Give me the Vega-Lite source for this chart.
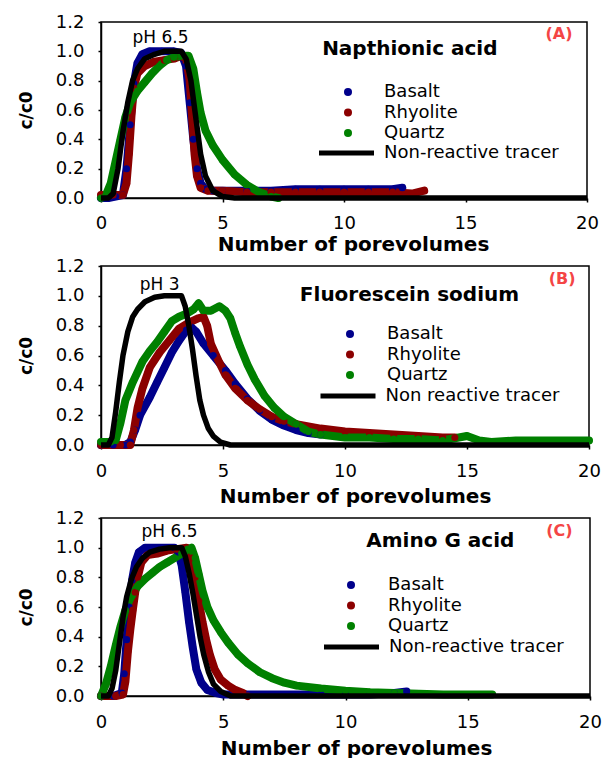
{
  "$schema": "https://vega.github.io/schema/vega-lite/v6.json",
  "padding": {"left": 16, "top": 12, "right": 5, "bottom": 0},
  "spacing": 1,
  "background": "white",
  "datasets": {
    "A": [
      {"series":"Basalt","x":0,"y":0},{"series":"Basalt","x":0.3,"y":0},{"series":"Basalt","x":0.6,"y":0.01},{"series":"Basalt","x":0.9,"y":0.02},{"series":"Basalt","x":1.05,"y":0.2},{"series":"Basalt","x":1.2,"y":0.5},{"series":"Basalt","x":1.35,"y":0.78},{"series":"Basalt","x":1.5,"y":0.92},{"series":"Basalt","x":1.7,"y":0.98},{"series":"Basalt","x":2.0,"y":1.0},{"series":"Basalt","x":2.5,"y":1.0},{"series":"Basalt","x":3.0,"y":1.0},{"series":"Basalt","x":3.3,"y":0.99},{"series":"Basalt","x":3.5,"y":0.9},{"series":"Basalt","x":3.65,"y":0.65},{"series":"Basalt","x":3.8,"y":0.4},{"series":"Basalt","x":3.95,"y":0.2},{"series":"Basalt","x":4.1,"y":0.1},{"series":"Basalt","x":4.3,"y":0.06},{"series":"Basalt","x":4.6,"y":0.05},{"series":"Basalt","x":5,"y":0.05},{"series":"Basalt","x":6,"y":0.05},{"series":"Basalt","x":7,"y":0.05},{"series":"Basalt","x":8,"y":0.06},{"series":"Basalt","x":9,"y":0.06},{"series":"Basalt","x":10,"y":0.06},{"series":"Basalt","x":11,"y":0.06},{"series":"Basalt","x":12,"y":0.06},{"series":"Basalt","x":12.4,"y":0.07},
      {"series":"Rhyolite","x":0,"y":0.02},{"series":"Rhyolite","x":0.5,"y":0.02},{"series":"Rhyolite","x":0.9,"y":0.02},{"series":"Rhyolite","x":1.05,"y":0.1},{"series":"Rhyolite","x":1.15,"y":0.3},{"series":"Rhyolite","x":1.25,"y":0.55},{"series":"Rhyolite","x":1.35,"y":0.75},{"series":"Rhyolite","x":1.5,"y":0.85},{"series":"Rhyolite","x":1.8,"y":0.9},{"series":"Rhyolite","x":2.2,"y":0.93},{"series":"Rhyolite","x":2.6,"y":0.94},{"series":"Rhyolite","x":3.0,"y":0.95},{"series":"Rhyolite","x":3.3,"y":0.97},{"series":"Rhyolite","x":3.5,"y":0.95},{"series":"Rhyolite","x":3.65,"y":0.8},{"series":"Rhyolite","x":3.75,"y":0.55},{"series":"Rhyolite","x":3.85,"y":0.3},{"series":"Rhyolite","x":3.95,"y":0.15},{"series":"Rhyolite","x":4.1,"y":0.07},{"series":"Rhyolite","x":4.4,"y":0.05},{"series":"Rhyolite","x":5,"y":0.05},{"series":"Rhyolite","x":6,"y":0.04},{"series":"Rhyolite","x":7,"y":0.04},{"series":"Rhyolite","x":8,"y":0.04},{"series":"Rhyolite","x":9,"y":0.04},{"series":"Rhyolite","x":10,"y":0.04},{"series":"Rhyolite","x":11,"y":0.04},{"series":"Rhyolite","x":12,"y":0.04},{"series":"Rhyolite","x":12.8,"y":0.03},{"series":"Rhyolite","x":13.3,"y":0.05},
      {"series":"Quartz","x":0,"y":0},{"series":"Quartz","x":0.2,"y":0.02},{"series":"Quartz","x":0.4,"y":0.1},{"series":"Quartz","x":0.6,"y":0.25},{"series":"Quartz","x":0.8,"y":0.4},{"series":"Quartz","x":1.0,"y":0.55},{"series":"Quartz","x":1.2,"y":0.65},{"series":"Quartz","x":1.5,"y":0.73},{"series":"Quartz","x":1.8,"y":0.79},{"series":"Quartz","x":2.1,"y":0.85},{"series":"Quartz","x":2.4,"y":0.9},{"series":"Quartz","x":2.7,"y":0.94},{"series":"Quartz","x":3.0,"y":0.96},{"series":"Quartz","x":3.3,"y":0.97},{"series":"Quartz","x":3.6,"y":0.97},{"series":"Quartz","x":3.8,"y":0.88},{"series":"Quartz","x":3.95,"y":0.72},{"series":"Quartz","x":4.1,"y":0.58},{"series":"Quartz","x":4.3,"y":0.46},{"series":"Quartz","x":4.6,"y":0.36},{"series":"Quartz","x":5.0,"y":0.26},{"series":"Quartz","x":5.5,"y":0.16},{"series":"Quartz","x":6.0,"y":0.09},{"series":"Quartz","x":6.5,"y":0.04},{"series":"Quartz","x":7.0,"y":0.01},{"series":"Quartz","x":7.3,"y":0.0},
      {"series":"Non-reactive tracer","x":0,"y":0},{"series":"Non-reactive tracer","x":0.3,"y":0},{"series":"Non-reactive tracer","x":0.5,"y":0.03},{"series":"Non-reactive tracer","x":0.7,"y":0.2},{"series":"Non-reactive tracer","x":0.9,"y":0.45},{"series":"Non-reactive tracer","x":1.1,"y":0.65},{"series":"Non-reactive tracer","x":1.3,"y":0.8},{"series":"Non-reactive tracer","x":1.5,"y":0.88},{"series":"Non-reactive tracer","x":1.8,"y":0.95},{"series":"Non-reactive tracer","x":2.2,"y":0.98},{"series":"Non-reactive tracer","x":2.6,"y":1.0},{"series":"Non-reactive tracer","x":3.3,"y":1.0},{"series":"Non-reactive tracer","x":3.5,"y":0.95},{"series":"Non-reactive tracer","x":3.7,"y":0.8},{"series":"Non-reactive tracer","x":3.9,"y":0.55},{"series":"Non-reactive tracer","x":4.1,"y":0.3},{"series":"Non-reactive tracer","x":4.3,"y":0.15},{"series":"Non-reactive tracer","x":4.6,"y":0.05},{"series":"Non-reactive tracer","x":5.0,"y":0.01},{"series":"Non-reactive tracer","x":5.5,"y":0},{"series":"Non-reactive tracer","x":20,"y":0}
    ],
    "B": [
      {"series":"Basalt","x":0,"y":0},{"series":"Basalt","x":0.5,"y":0},{"series":"Basalt","x":1.0,"y":0},{"series":"Basalt","x":1.2,"y":0.02},{"series":"Basalt","x":1.4,"y":0.1},{"series":"Basalt","x":1.6,"y":0.2},{"series":"Basalt","x":2.0,"y":0.32},{"series":"Basalt","x":2.3,"y":0.42},{"series":"Basalt","x":2.6,"y":0.52},{"series":"Basalt","x":2.9,"y":0.62},{"series":"Basalt","x":3.2,"y":0.7},{"series":"Basalt","x":3.5,"y":0.77},{"series":"Basalt","x":3.7,"y":0.79},{"series":"Basalt","x":3.9,"y":0.76},{"series":"Basalt","x":4.2,"y":0.68},{"series":"Basalt","x":4.6,"y":0.6},{"series":"Basalt","x":5.1,"y":0.5},{"series":"Basalt","x":5.5,"y":0.41},{"series":"Basalt","x":6.0,"y":0.31},{"series":"Basalt","x":6.5,"y":0.23},{"series":"Basalt","x":7.0,"y":0.17},{"series":"Basalt","x":7.5,"y":0.13},{"series":"Basalt","x":8.0,"y":0.1},{"series":"Basalt","x":8.5,"y":0.08},{"series":"Basalt","x":9.0,"y":0.07},
      {"series":"Rhyolite","x":0,"y":0},{"series":"Rhyolite","x":0.8,"y":0},{"series":"Rhyolite","x":1.2,"y":0},{"series":"Rhyolite","x":1.35,"y":0.1},{"series":"Rhyolite","x":1.5,"y":0.25},{"series":"Rhyolite","x":1.7,"y":0.38},{"series":"Rhyolite","x":2.0,"y":0.52},{"series":"Rhyolite","x":2.4,"y":0.62},{"series":"Rhyolite","x":2.8,"y":0.7},{"series":"Rhyolite","x":3.2,"y":0.78},{"series":"Rhyolite","x":3.6,"y":0.82},{"series":"Rhyolite","x":4.0,"y":0.85},{"series":"Rhyolite","x":4.2,"y":0.86},{"series":"Rhyolite","x":4.35,"y":0.8},{"series":"Rhyolite","x":4.5,"y":0.68},{"series":"Rhyolite","x":4.8,"y":0.57},{"series":"Rhyolite","x":5.1,"y":0.47},{"series":"Rhyolite","x":5.5,"y":0.38},{"series":"Rhyolite","x":6.0,"y":0.3},{"series":"Rhyolite","x":6.5,"y":0.24},{"series":"Rhyolite","x":7.0,"y":0.19},{"series":"Rhyolite","x":7.5,"y":0.16},{"series":"Rhyolite","x":8.0,"y":0.14},{"series":"Rhyolite","x":9.0,"y":0.11},{"series":"Rhyolite","x":10,"y":0.09},{"series":"Rhyolite","x":11,"y":0.08},{"series":"Rhyolite","x":12,"y":0.07},{"series":"Rhyolite","x":13,"y":0.06},{"series":"Rhyolite","x":14,"y":0.05},{"series":"Rhyolite","x":14.5,"y":0.05},
      {"series":"Quartz","x":0,"y":0.02},{"series":"Quartz","x":0.4,"y":0.02},{"series":"Quartz","x":0.6,"y":0.03},{"series":"Quartz","x":0.8,"y":0.15},{"series":"Quartz","x":1.0,"y":0.3},{"series":"Quartz","x":1.3,"y":0.42},{"series":"Quartz","x":1.7,"y":0.56},{"series":"Quartz","x":2.0,"y":0.63},{"series":"Quartz","x":2.3,"y":0.69},{"series":"Quartz","x":2.6,"y":0.76},{"series":"Quartz","x":2.9,"y":0.83},{"series":"Quartz","x":3.2,"y":0.86},{"series":"Quartz","x":3.5,"y":0.88},{"series":"Quartz","x":3.8,"y":0.91},{"series":"Quartz","x":4.0,"y":0.95},{"series":"Quartz","x":4.2,"y":0.9},{"series":"Quartz","x":4.5,"y":0.9},{"series":"Quartz","x":4.85,"y":0.93},{"series":"Quartz","x":5.1,"y":0.9},{"series":"Quartz","x":5.3,"y":0.85},{"series":"Quartz","x":5.5,"y":0.75},{"series":"Quartz","x":5.7,"y":0.66},{"series":"Quartz","x":6.0,"y":0.54},{"series":"Quartz","x":6.3,"y":0.44},{"series":"Quartz","x":6.7,"y":0.33},{"series":"Quartz","x":7.1,"y":0.25},{"series":"Quartz","x":7.5,"y":0.19},{"series":"Quartz","x":8.0,"y":0.14},{"series":"Quartz","x":8.5,"y":0.09},{"series":"Quartz","x":9,"y":0.07},{"series":"Quartz","x":10,"y":0.05},{"series":"Quartz","x":11,"y":0.05},{"series":"Quartz","x":12,"y":0.04},{"series":"Quartz","x":13,"y":0.04},{"series":"Quartz","x":14,"y":0.03},{"series":"Quartz","x":15,"y":0.06},{"series":"Quartz","x":15.5,"y":0.03},{"series":"Quartz","x":16,"y":0.02},{"series":"Quartz","x":17,"y":0.03},{"series":"Quartz","x":18,"y":0.03},{"series":"Quartz","x":19,"y":0.03},{"series":"Quartz","x":20,"y":0.03},
      {"series":"Non reactive tracer","x":0,"y":0},{"series":"Non reactive tracer","x":0.3,"y":0},{"series":"Non reactive tracer","x":0.45,"y":0.05},{"series":"Non reactive tracer","x":0.6,"y":0.22},{"series":"Non reactive tracer","x":0.75,"y":0.42},{"series":"Non reactive tracer","x":0.9,"y":0.6},{"series":"Non reactive tracer","x":1.1,"y":0.76},{"series":"Non reactive tracer","x":1.3,"y":0.86},{"series":"Non reactive tracer","x":1.5,"y":0.91},{"series":"Non reactive tracer","x":1.8,"y":0.96},{"series":"Non reactive tracer","x":2.2,"y":0.99},{"series":"Non reactive tracer","x":2.6,"y":1.0},{"series":"Non reactive tracer","x":3.3,"y":1.0},{"series":"Non reactive tracer","x":3.45,"y":0.93},{"series":"Non reactive tracer","x":3.6,"y":0.8},{"series":"Non reactive tracer","x":3.75,"y":0.64},{"series":"Non reactive tracer","x":3.9,"y":0.46},{"series":"Non reactive tracer","x":4.05,"y":0.3},{"series":"Non reactive tracer","x":4.2,"y":0.2},{"series":"Non reactive tracer","x":4.4,"y":0.11},{"series":"Non reactive tracer","x":4.6,"y":0.06},{"series":"Non reactive tracer","x":4.9,"y":0.02},{"series":"Non reactive tracer","x":5.3,"y":0},{"series":"Non reactive tracer","x":20,"y":0}
    ],
    "C": [
      {"series":"Basalt","x":0,"y":0},{"series":"Basalt","x":0.5,"y":0},{"series":"Basalt","x":0.85,"y":0.02},{"series":"Basalt","x":0.95,"y":0.15},{"series":"Basalt","x":1.05,"y":0.38},{"series":"Basalt","x":1.15,"y":0.6},{"series":"Basalt","x":1.27,"y":0.78},{"series":"Basalt","x":1.4,"y":0.9},{"series":"Basalt","x":1.55,"y":0.97},{"series":"Basalt","x":1.8,"y":1.0},{"series":"Basalt","x":2.5,"y":1.0},{"series":"Basalt","x":3.0,"y":1.0},{"series":"Basalt","x":3.15,"y":0.97},{"series":"Basalt","x":3.3,"y":0.88},{"series":"Basalt","x":3.45,"y":0.7},{"series":"Basalt","x":3.6,"y":0.5},{"series":"Basalt","x":3.75,"y":0.33},{"series":"Basalt","x":3.9,"y":0.18},{"series":"Basalt","x":4.1,"y":0.09},{"series":"Basalt","x":4.35,"y":0.04},{"series":"Basalt","x":4.7,"y":0.02},{"series":"Basalt","x":5.0,"y":0.01},{"series":"Basalt","x":6,"y":0.01},{"series":"Basalt","x":7,"y":0.01},{"series":"Basalt","x":8,"y":0.01},{"series":"Basalt","x":9,"y":0.01},{"series":"Basalt","x":10,"y":0.01},{"series":"Basalt","x":11,"y":0.01},{"series":"Basalt","x":12,"y":0.02},{"series":"Basalt","x":12.5,"y":0.03},
      {"series":"Rhyolite","x":0,"y":0},{"series":"Rhyolite","x":0.6,"y":0},{"series":"Rhyolite","x":0.9,"y":0.01},{"series":"Rhyolite","x":1.0,"y":0.1},{"series":"Rhyolite","x":1.1,"y":0.3},{"series":"Rhyolite","x":1.2,"y":0.45},{"series":"Rhyolite","x":1.3,"y":0.58},{"series":"Rhyolite","x":1.4,"y":0.7},{"series":"Rhyolite","x":1.5,"y":0.8},{"series":"Rhyolite","x":1.65,"y":0.9},{"series":"Rhyolite","x":1.9,"y":0.95},{"series":"Rhyolite","x":2.3,"y":0.96},{"series":"Rhyolite","x":2.7,"y":0.98},{"series":"Rhyolite","x":3.1,"y":0.99},{"series":"Rhyolite","x":3.5,"y":1.0},{"series":"Rhyolite","x":3.7,"y":0.93},{"series":"Rhyolite","x":3.85,"y":0.8},{"series":"Rhyolite","x":4.0,"y":0.64},{"series":"Rhyolite","x":4.15,"y":0.5},{"series":"Rhyolite","x":4.3,"y":0.38},{"series":"Rhyolite","x":4.45,"y":0.28},{"series":"Rhyolite","x":4.65,"y":0.18},{"series":"Rhyolite","x":4.9,"y":0.11},{"series":"Rhyolite","x":5.2,"y":0.07},{"series":"Rhyolite","x":5.5,"y":0.04},{"series":"Rhyolite","x":5.8,"y":0.02},{"series":"Rhyolite","x":6.0,"y":0},
      {"series":"Quartz","x":0,"y":0},{"series":"Quartz","x":0.2,"y":0.08},{"series":"Quartz","x":0.4,"y":0.2},{"series":"Quartz","x":0.6,"y":0.34},{"series":"Quartz","x":0.8,"y":0.47},{"series":"Quartz","x":1.0,"y":0.58},{"series":"Quartz","x":1.2,"y":0.66},{"series":"Quartz","x":1.5,"y":0.74},{"series":"Quartz","x":1.8,"y":0.79},{"series":"Quartz","x":2.1,"y":0.83},{"series":"Quartz","x":2.4,"y":0.87},{"series":"Quartz","x":2.7,"y":0.9},{"series":"Quartz","x":3.0,"y":0.93},{"series":"Quartz","x":3.3,"y":0.96},{"series":"Quartz","x":3.55,"y":0.99},{"series":"Quartz","x":3.7,"y":1.0},{"series":"Quartz","x":3.85,"y":0.93},{"series":"Quartz","x":4.0,"y":0.82},{"series":"Quartz","x":4.15,"y":0.71},{"series":"Quartz","x":4.35,"y":0.6},{"series":"Quartz","x":4.6,"y":0.51},{"series":"Quartz","x":4.9,"y":0.43},{"series":"Quartz","x":5.2,"y":0.36},{"series":"Quartz","x":5.6,"y":0.28},{"series":"Quartz","x":6.0,"y":0.22},{"series":"Quartz","x":6.5,"y":0.16},{"series":"Quartz","x":7.0,"y":0.12},{"series":"Quartz","x":7.5,"y":0.09},{"series":"Quartz","x":8.0,"y":0.07},{"series":"Quartz","x":9,"y":0.05},{"series":"Quartz","x":10,"y":0.035},{"series":"Quartz","x":11,"y":0.025},{"series":"Quartz","x":12,"y":0.02},{"series":"Quartz","x":13,"y":0.015},{"series":"Quartz","x":14,"y":0.01},{"series":"Quartz","x":15,"y":0.01},{"series":"Quartz","x":16,"y":0.01},
      {"series":"Non-reactive tracer","x":0,"y":0},{"series":"Non-reactive tracer","x":0.3,"y":0},{"series":"Non-reactive tracer","x":0.45,"y":0.05},{"series":"Non-reactive tracer","x":0.6,"y":0.17},{"series":"Non-reactive tracer","x":0.75,"y":0.35},{"series":"Non-reactive tracer","x":0.9,"y":0.53},{"series":"Non-reactive tracer","x":1.05,"y":0.67},{"series":"Non-reactive tracer","x":1.25,"y":0.79},{"series":"Non-reactive tracer","x":1.45,"y":0.87},{"series":"Non-reactive tracer","x":1.7,"y":0.93},{"series":"Non-reactive tracer","x":2.0,"y":0.97},{"series":"Non-reactive tracer","x":2.4,"y":0.99},{"series":"Non-reactive tracer","x":2.8,"y":1.0},{"series":"Non-reactive tracer","x":3.3,"y":1.0},{"series":"Non-reactive tracer","x":3.45,"y":0.94},{"series":"Non-reactive tracer","x":3.6,"y":0.83},{"series":"Non-reactive tracer","x":3.75,"y":0.7},{"series":"Non-reactive tracer","x":3.9,"y":0.55},{"series":"Non-reactive tracer","x":4.05,"y":0.4},{"series":"Non-reactive tracer","x":4.2,"y":0.28},{"series":"Non-reactive tracer","x":4.4,"y":0.16},{"series":"Non-reactive tracer","x":4.6,"y":0.08},{"series":"Non-reactive tracer","x":4.9,"y":0.03},{"series":"Non-reactive tracer","x":5.3,"y":0},{"series":"Non-reactive tracer","x":20,"y":0}
    ]
  },
  "vconcat": [
    {
      "width": 486, "height": 176,
      "layer": [
        {"data": {"name": "A"},
         "transform": [{"filter": "datum.series == 'Basalt' || datum.series == 'Rhyolite' || datum.series == 'Quartz'"}],
         "mark": {"type": "line", "strokeWidth": 8, "strokeCap": "round", "strokeJoin": "round"},
         "encoding": {
           "x": {"field": "x", "type": "quantitative", "scale": {"domain": [0, 20], "nice": false},
                 "axis": {"values": [0, 5, 10, 15, 20], "title": "Number of porevolumes", "titlePadding": 2, "titleX": 252, "titleAlign": "center", "labelPadding": 12, "tickSize": 4}},
           "y": {"field": "y", "type": "quantitative", "scale": {"domain": [0, 1.2], "nice": false},
                 "axis": {"values": [0, 0.2, 0.4, 0.6, 0.8, 1.0, 1.2], "format": ".1f", "title": "c/c0", "titlePadding": 20, "labelPadding": 14, "tickSize": 3, "labelOverlap": false, "tickCount": 7}},
           "stroke": {"field": "series", "type": "nominal", "scale": {"domain": ["Basalt", "Rhyolite", "Quartz", "Non-reactive tracer"], "range": ["#00008b", "#8b0000", "#008000", "black"]},
             "legend": {"values": ["Non-reactive tracer"], "orient": "none", "legendX": 215.5, "legendY": 101, "title": null, "padding": 0, "labelOffset": 7.5, "labelLimit": 0, "symbolType": "stroke", "symbolSize": 3025, "symbolStrokeWidth": 5, "labelFontSize": 18, "labelFont": "DejaVu Sans", "labelColor": "black"}}}},
        {"data": {"name": "A"},
         "transform": [{"filter": "datum.series == 'Basalt' || datum.series == 'Rhyolite' || datum.series == 'Quartz'"}],
         "mark": {"type": "point", "filled": true, "size": 50, "opacity": 1, "strokeWidth": 0},
         "encoding": {"x": {"field": "x", "type": "quantitative"}, "y": {"field": "y", "type": "quantitative"},
           "fill": {"field": "series", "type": "nominal", "scale": {"domain": ["Basalt", "Rhyolite", "Quartz"], "range": ["#00008b", "#8b0000", "#008000"]},
           "legend": {"orient": "none", "legendX": 238, "legendY": 61, "title": null, "padding": 0, "rowPadding": 2.5, "labelOffset": 27, "labelLimit": 0, "symbolType": "circle", "symbolSize": 64, "symbolStrokeWidth": 0, "labelFontSize": 18, "labelFont": "DejaVu Sans", "labelColor": "black"}}}},
        {"data": {"name": "A"},
         "transform": [{"filter": "datum.series == 'Non-reactive tracer'"}],
         "mark": {"type": "line", "strokeWidth": 5.5, "strokeJoin": "round"},
         "encoding": {"x": {"field": "x", "type": "quantitative"}, "y": {"field": "y", "type": "quantitative"}, "stroke": {"field": "series", "type": "nominal"}}},
        {"data": {"values": [{}]},
         "mark": {"type": "text", "text": "Napthionic acid", "align": "left", "baseline": "middle", "font": "DejaVu Sans", "fontWeight": "bold", "fontSize": 20, "color": "black"},
         "encoding": {"x": {"datum": 9.1, "type": "quantitative"}, "y": {"datum": 1.016, "type": "quantitative"}}},
        {"data": {"values": [{}]},
         "mark": {"type": "text", "text": "(A)", "align": "center", "baseline": "middle", "font": "DejaVu Sans", "fontWeight": "bold", "fontSize": 16, "color": "#f44545"},
         "encoding": {"x": {"datum": 18.85, "type": "quantitative"}, "y": {"datum": 1.118, "type": "quantitative"}}},
        {"data": {"values": [{}]},
         "mark": {"type": "text", "text": "pH 6.5", "align": "center", "baseline": "middle", "font": "DejaVu Sans", "fontSize": 17, "color": "black"},
         "encoding": {"x": {"datum": 2.45, "type": "quantitative"}, "y": {"datum": 1.09, "type": "quantitative"}}}
      ]
    },
    {
      "width": 488, "height": 179,
      "layer": [
        {"data": {"name": "B"},
         "transform": [{"filter": "datum.series == 'Basalt' || datum.series == 'Rhyolite' || datum.series == 'Quartz'"}],
         "mark": {"type": "line", "strokeWidth": 8, "strokeCap": "round", "strokeJoin": "round"},
         "encoding": {
           "x": {"field": "x", "type": "quantitative", "scale": {"domain": [0, 20], "nice": false},
                 "axis": {"values": [0, 5, 10, 15, 20], "title": "Number of porevolumes", "titlePadding": 6, "titleX": 254, "titleAlign": "center", "labelPadding": 13, "tickSize": 4}},
           "y": {"field": "y", "type": "quantitative", "scale": {"domain": [0, 1.2], "nice": false},
                 "axis": {"values": [0, 0.2, 0.4, 0.6, 0.8, 1.0, 1.2], "format": ".1f", "title": "c/c0", "titlePadding": 20, "labelPadding": 14, "tickSize": 3, "labelOverlap": false, "tickCount": 7}},
           "stroke": {"field": "series", "type": "nominal", "scale": {"domain": ["Basalt", "Rhyolite", "Quartz", "Non reactive tracer"], "range": ["#00008b", "#8b0000", "#008000", "black"]},
             "legend": {"values": ["Non reactive tracer"], "orient": "none", "legendX": 217, "legendY": 100, "title": null, "padding": 0, "labelOffset": 7.5, "labelLimit": 0, "symbolType": "stroke", "symbolSize": 3025, "symbolStrokeWidth": 5, "labelFontSize": 18, "labelFont": "DejaVu Sans", "labelColor": "black"}}}},
        {"data": {"name": "B"},
         "transform": [{"filter": "datum.series == 'Basalt' || datum.series == 'Rhyolite' || datum.series == 'Quartz'"}],
         "mark": {"type": "point", "filled": true, "size": 50, "opacity": 1, "strokeWidth": 0},
         "encoding": {"x": {"field": "x", "type": "quantitative"}, "y": {"field": "y", "type": "quantitative"},
           "fill": {"field": "series", "type": "nominal", "scale": {"domain": ["Basalt", "Rhyolite", "Quartz"], "range": ["#00008b", "#8b0000", "#008000"]},
           "legend": {"orient": "none", "legendX": 240, "legendY": 59, "title": null, "padding": 0, "rowPadding": 2.5, "labelOffset": 28, "labelLimit": 0, "symbolType": "circle", "symbolSize": 64, "symbolStrokeWidth": 0, "labelFontSize": 18, "labelFont": "DejaVu Sans", "labelColor": "black"}}}},
        {"data": {"name": "B"},
         "transform": [{"filter": "datum.series == 'Non reactive tracer'"}],
         "mark": {"type": "line", "strokeWidth": 5.5, "strokeJoin": "round"},
         "encoding": {"x": {"field": "x", "type": "quantitative"}, "y": {"field": "y", "type": "quantitative"}, "stroke": {"field": "series", "type": "nominal"}}},
        {"data": {"values": [{}]},
         "mark": {"type": "text", "text": "Fluorescein sodium", "align": "left", "baseline": "middle", "font": "DejaVu Sans", "fontWeight": "bold", "fontSize": 20, "color": "black"},
         "encoding": {"x": {"datum": 8.15, "type": "quantitative"}, "y": {"datum": 1.007, "type": "quantitative"}}},
        {"data": {"values": [{}]},
         "mark": {"type": "text", "text": "(B)", "align": "center", "baseline": "middle", "font": "DejaVu Sans", "fontWeight": "bold", "fontSize": 16, "color": "#f44545"},
         "encoding": {"x": {"datum": 18.9, "type": "quantitative"}, "y": {"datum": 1.114, "type": "quantitative"}}},
        {"data": {"values": [{}]},
         "mark": {"type": "text", "text": "pH 3", "align": "center", "baseline": "middle", "font": "DejaVu Sans", "fontSize": 17, "color": "black"},
         "encoding": {"x": {"datum": 2.4, "type": "quantitative"}, "y": {"datum": 1.074, "type": "quantitative"}}}
      ]
    },
    {
      "width": 489, "height": 178,
      "layer": [
        {"data": {"name": "C"},
         "transform": [{"filter": "datum.series == 'Basalt' || datum.series == 'Rhyolite' || datum.series == 'Quartz'"}],
         "mark": {"type": "line", "strokeWidth": 8, "strokeCap": "round", "strokeJoin": "round"},
         "encoding": {
           "x": {"field": "x", "type": "quantitative", "scale": {"domain": [0, 20], "nice": false},
                 "axis": {"values": [0, 5, 10, 15, 20], "title": "Number of porevolumes", "titlePadding": 7, "titleX": 255, "titleAlign": "center", "labelPadding": 13, "tickSize": 4}},
           "y": {"field": "y", "type": "quantitative", "scale": {"domain": [0, 1.2], "nice": false},
                 "axis": {"values": [0, 0.2, 0.4, 0.6, 0.8, 1.0, 1.2], "format": ".1f", "title": "c/c0", "titlePadding": 20, "labelPadding": 14, "tickSize": 3, "labelOverlap": false, "tickCount": 7}},
           "stroke": {"field": "series", "type": "nominal", "scale": {"domain": ["Basalt", "Rhyolite", "Quartz", "Non-reactive tracer"], "range": ["#00008b", "#8b0000", "#008000", "black"]},
             "legend": {"values": ["Non-reactive tracer"], "orient": "none", "legendX": 220.5, "legendY": 99, "title": null, "padding": 0, "labelOffset": 7.5, "labelLimit": 0, "symbolType": "stroke", "symbolSize": 3025, "symbolStrokeWidth": 5, "labelFontSize": 18, "labelFont": "DejaVu Sans", "labelColor": "black"}}}},
        {"data": {"name": "C"},
         "transform": [{"filter": "datum.series == 'Basalt' || datum.series == 'Rhyolite' || datum.series == 'Quartz'"}],
         "mark": {"type": "point", "filled": true, "size": 50, "opacity": 1, "strokeWidth": 0},
         "encoding": {"x": {"field": "x", "type": "quantitative"}, "y": {"field": "y", "type": "quantitative"},
           "fill": {"field": "series", "type": "nominal", "scale": {"domain": ["Basalt", "Rhyolite", "Quartz"], "range": ["#00008b", "#8b0000", "#008000"]},
           "legend": {"orient": "none", "legendX": 241, "legendY": 58, "title": null, "padding": 0, "rowPadding": 2.5, "labelOffset": 28, "labelLimit": 0, "symbolType": "circle", "symbolSize": 64, "symbolStrokeWidth": 0, "labelFontSize": 18, "labelFont": "DejaVu Sans", "labelColor": "black"}}}},
        {"data": {"name": "C"},
         "transform": [{"filter": "datum.series == 'Non-reactive tracer'"}],
         "mark": {"type": "line", "strokeWidth": 5.5, "strokeJoin": "round"},
         "encoding": {"x": {"field": "x", "type": "quantitative"}, "y": {"field": "y", "type": "quantitative"}, "stroke": {"field": "series", "type": "nominal"}}},
        {"data": {"values": [{}]},
         "mark": {"type": "text", "text": "Amino G acid", "align": "left", "baseline": "middle", "font": "DejaVu Sans", "fontWeight": "bold", "fontSize": 20, "color": "black"},
         "encoding": {"x": {"datum": 10.85, "type": "quantitative"}, "y": {"datum": 1.045, "type": "quantitative"}}},
        {"data": {"values": [{}]},
         "mark": {"type": "text", "text": "(C)", "align": "center", "baseline": "middle", "font": "DejaVu Sans", "fontWeight": "bold", "fontSize": 16, "color": "#f44545"},
         "encoding": {"x": {"datum": 18.75, "type": "quantitative"}, "y": {"datum": 1.113, "type": "quantitative"}}},
        {"data": {"values": [{}]},
         "mark": {"type": "text", "text": "pH 6.5", "align": "center", "baseline": "middle", "font": "DejaVu Sans", "fontSize": 17, "color": "black"},
         "encoding": {"x": {"datum": 2.8, "type": "quantitative"}, "y": {"datum": 1.106, "type": "quantitative"}}}
      ]
    }
  ],
  "resolve": {"scale": {"fill": "independent", "stroke": "independent", "x": "independent", "y": "independent"}, "legend": {"fill": "independent", "stroke": "independent"}},
  "config": {
    "view": {"stroke": "black", "strokeWidth": 1.5},
    "axis": {"grid": false, "domainColor": "black", "domainWidth": 1.5, "tickColor": "black", "tickWidth": 1.5, "labelColor": "black", "titleColor": "black", "labelFont": "DejaVu Sans", "labelFontSize": 18, "titleFont": "DejaVu Sans", "titleFontSize": 20, "titleFontWeight": "bold", "labelFlush": false, "labelOverlap": false},
    "axisY": {"titleFontSize": 17}
  }
}
